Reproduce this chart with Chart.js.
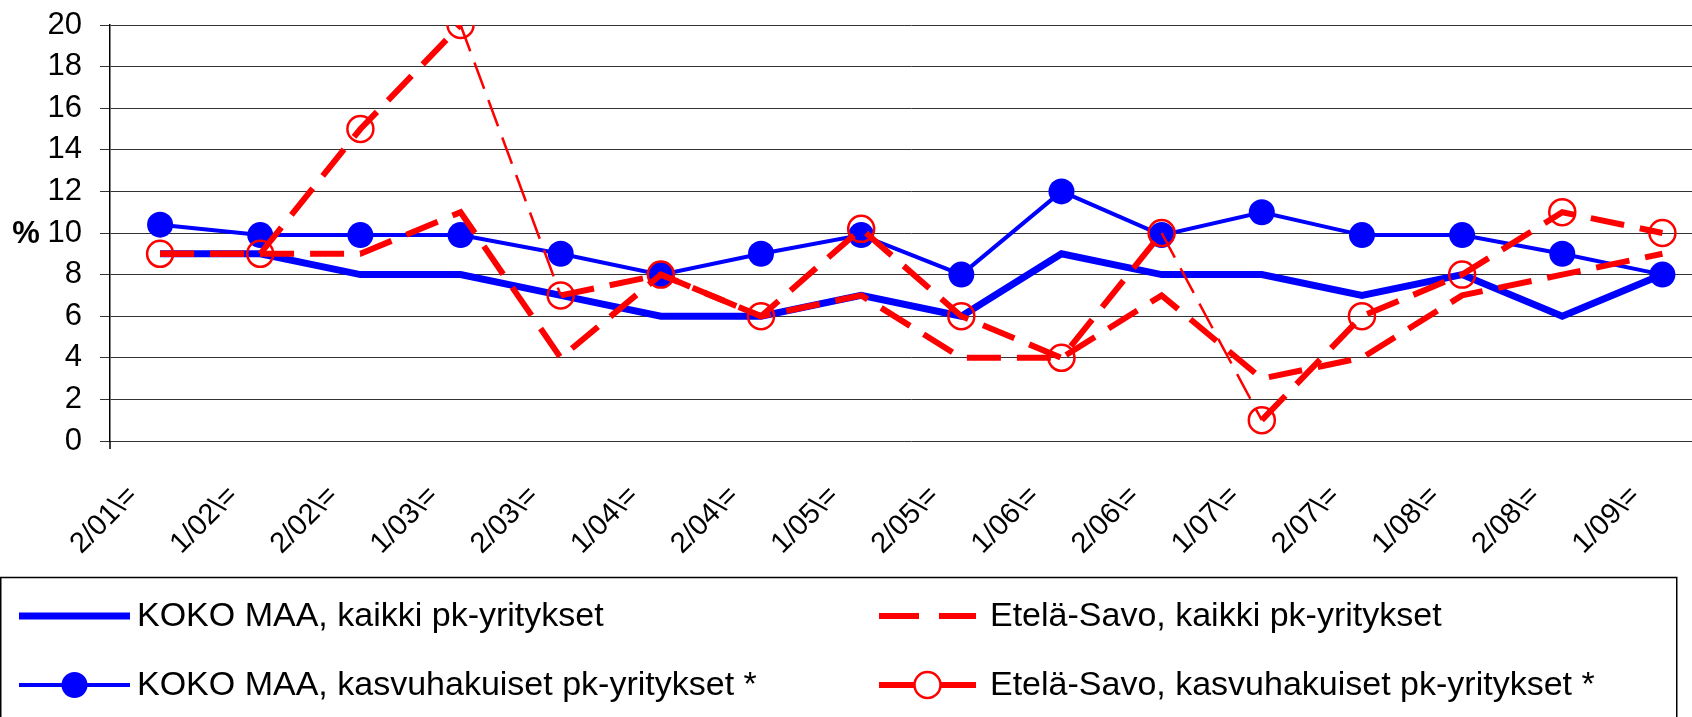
<!DOCTYPE html>
<html>
<head>
<meta charset="utf-8">
<script src="https://cdn.jsdelivr.net/npm/chart.js@4.4.1/dist/chart.umd.min.js"></script>
<style>
  html, body { margin: 0; padding: 0; background: #fff; overflow: hidden; }
  #wrap { width: 1728px; height: 717px; }
</style>
</head>
<body>
<div id="wrap"><canvas id="chart" width="1728" height="717"></canvas></div>
<script>
// Half-year labels as printed under the axis
const labels = ['2/01\\=', '1/02\\=', '2/02\\=', '1/03\\=', '2/03\\=', '1/04\\=', '2/04\\=', '1/05\\=',
                '2/05\\=', '1/06\\=', '2/06\\=', '1/07\\=', '2/07\\=', '1/08\\=', '2/08\\=', '1/09\\='];

// Values in %
const kokoKaikki = [9, 9, 8, 8, 7, 6, 6, 7, 6, 9, 8, 8, 7, 8, 6, 8];
const kokoKasvu  = [10.4, 9.9, 9.9, 9.9, 9, 8, 9, 9.9, 8, 12, 9.9, 11, 9.9, 9.9, 9, 8];
const etelaKaikki = [9, 9, 9, 11, 4, 8, 6, 7, 4, 4, 7, 3, 4, 7, 8, 9];
const etelaKasvu  = [9, 9, 15, 20, 7, 8, 6, 10.2, 6, 4, 10, 1, 6, 8, 11, 10];

const names = [
    'KOKO MAA, kaikki pk-yritykset',
    'Etelä-Savo, kaikki pk-yritykset',
    'KOKO MAA, kasvuhakuiset pk-yritykset *',
    'Etelä-Savo, kasvuhakuiset pk-yritykset *'
];

const FONT = '"Liberation Sans", Arial, sans-serif';
const BLUE = '#0000ff';
const RED = '#ff0000';

// big drops in the red circle series are drawn with a thin line
function bigDrop(ctx) {
    return ctx.p0.parsed.y - ctx.p1.parsed.y > 5;
}

const datasets = [{
    label: names[0],
    data: kokoKaikki,
    borderColor: BLUE,
    borderWidth: 7,
    pointRadius: 0,
    order: 4
}, {
    label: names[1],
    data: etelaKaikki,
    borderColor: RED,
    borderWidth: 6,
    borderDash: [34, 16],
    pointRadius: 0,
    order: 2
}, {
    label: names[2],
    data: kokoKasvu,
    borderColor: BLUE,
    borderWidth: 4,
    pointRadius: 13,
    pointBackgroundColor: BLUE,
    pointBorderWidth: 0,
    order: 3
}, {
    label: names[3],
    data: etelaKasvu,
    borderColor: RED,
    borderWidth: 6,
    borderDash: [34, 16],
    pointRadius: 13,
    pointBackgroundColor: 'rgba(0,0,0,0)',
    pointBorderColor: RED,
    pointBorderWidth: 2.5,
    segment: {
        borderWidth: ctx => bigDrop(ctx) ? 2.5 : 6,
        borderDash: ctx => bigDrop(ctx) ? [28, 12] : [34, 16]
    },
    order: 1
}];


function drawSample(ctx, ds, x0, x1, y) {
    ctx.save();
    ctx.strokeStyle = ds.borderColor;
    ctx.lineWidth = ds.borderWidth;
    ctx.setLineDash(ds.borderDash ? [40, 20] : []);
    ctx.beginPath();
    ctx.moveTo(x0, y);
    ctx.lineTo(x1, y);
    ctx.stroke();
    ctx.setLineDash([]);
    if (ds.pointRadius > 0) {
        const cx = (x0 + x1) / 2;
        ctx.beginPath();
        ctx.arc(cx, y, ds.pointRadius, 0, Math.PI * 2);
        if (ds.pointBorderWidth > 0) {
            ctx.fillStyle = '#fff';
            ctx.fill();
            ctx.lineWidth = ds.pointBorderWidth;
            ctx.strokeStyle = ds.pointBorderColor;
            ctx.stroke();
        } else {
            ctx.fillStyle = ds.pointBackgroundColor;
            ctx.fill();
        }
    }
    ctx.restore();
}

// "%" label next to the value axis and the boxed legend below
const extras = {
    id: 'extras',
    afterDraw(chart) {
        const ctx = chart.ctx;
        const yScale = chart.scales.y;
        const area = chart.chartArea;
        ctx.save();
        ctx.fillStyle = '#000';
        ctx.font = 'bold 31px ' + FONT;
        ctx.textAlign = 'center';
        ctx.textBaseline = 'middle';
        ctx.fillText('%', 26, yScale.getPixelForValue(10) + 1);

        ctx.strokeStyle = '#000';
        ctx.lineWidth = 1.5;
        ctx.beginPath();
        ctx.moveTo(area.left, area.bottom);
        ctx.lineTo(area.left, area.bottom + 8);
        ctx.stroke();

        ctx.strokeRect(0.75, 577.5, 1676, 200);

        const cols = [[19, 130, 137], [879, 976, 990]];
        const rows = [616, 685];
        ctx.font = '34px ' + FONT;
        ctx.textAlign = 'left';
        for (let i = 0; i < datasets.length; i++) {
            const c = cols[i % 2];
            const r = rows[Math.floor(i / 2)];
            drawSample(ctx, datasets[i], c[0], c[1], r);
            ctx.fillStyle = '#000';
            ctx.fillText(names[i], c[2], r + 1);
        }
        ctx.restore();
    }
};

new Chart(document.getElementById('chart'), {
    type: 'line',
    data: { labels: labels, datasets: datasets },
    options: {
        responsive: false,
        animation: false,
        layout: { padding: { top: 25, left: 0, right: 0, bottom: 140 } },
        elements: { line: { tension: 0 } },
        plugins: {
            legend: { display: false },
            tooltip: { enabled: false }
        },
        scales: {
            x: {
                offset: true,
                grid: { display: false, drawTicks: false },
                border: { display: false },
                ticks: {
                    color: '#000',
                    font: { family: FONT, size: 29 },
                    minRotation: 45,
                    maxRotation: 45,
                    autoSkip: false,
                    padding: 38,
                    labelOffset: -27
                },
                afterFit: s => {
                    s.height = 136;
                    s.paddingLeft = 0;
                    s.paddingRight = 0;
                }
            },
            y: {
                min: 0,
                max: 20,
                grid: { color: '#333', lineWidth: 1, tickLength: 10 },
                border: { color: '#000', width: 1.5 },
                ticks: {
                    stepSize: 2,
                    autoSkip: false,
                    color: '#000',
                    font: { family: FONT, size: 31 },
                    padding: 18
                },
                afterFit: s => {
                    s.width = 110;
                    s.paddingTop = 0;
                    s.paddingBottom = 0;
                }
            }
        }
    },
    plugins: [extras]
});
</script>
</body>
</html>
